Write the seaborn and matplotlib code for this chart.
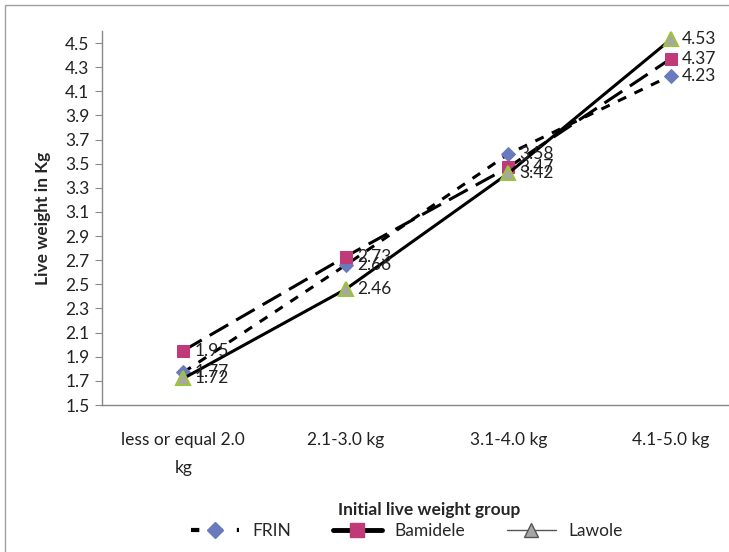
import numpy as np
import pandas as pd
import matplotlib.pyplot as plt
import seaborn as sns
from matplotlib.patches import Rectangle
from matplotlib.lines import Line2D

groups = ["less or equal 2.0\nkg", "2.1-3.0 kg", "3.1-4.0 kg", "4.1-5.0 kg"]
frin = [1.77, 2.66, 3.58, 4.23]
bamidele = [1.95, 2.73, 3.47, 4.37]
lawole = [1.72, 2.46, 3.42, 4.53]

sns.set_style("white")
plt.rcParams['font.family'] = ['Lato', 'DejaVu Sans']
FS = 12.5

fig = plt.figure(figsize=(7.29, 5.52), dpi=100)
ax = fig.add_axes([102 / 729, (552 - 405) / 552, 650 / 729, 374 / 552])

# figure border like the excel chart area
fig.patches.append(Rectangle((5 / 729, -0.05), 1.1, (552 - 5) / 552 + 0.05,
                             transform=fig.transFigure, fill=False,
                             edgecolor="#a0a0a0", linewidth=1))

blue = "#6a7bbd"
pink = "#bf3a77"
grey = "#a6a6a6"
lime = "#9cc43a"

series = [
    ("FRIN", frin, dict(marker="D", markersize=7, markerfacecolor=blue,
                        markeredgecolor=blue, dashes=(3, 3), linewidth=2.2)),
    ("Bamidele", bamidele, dict(marker="s", markersize=9, markerfacecolor=pink,
                                markeredgecolor=pink, dashes=(7, 3), linewidth=2.2)),
    ("Lawole", lawole, dict(marker="^", markersize=10, markerfacecolor=grey,
                            markeredgecolor=lime, markeredgewidth=1.5, linewidth=2.2)),
]

for name, vals, kw in series:
    df = pd.DataFrame({"group": groups, "weight": vals})
    sns.lineplot(data=df, x="group", y="weight", color="black", ax=ax,
                 sort=False, **kw)
    for i, v in enumerate(vals):
        ax.annotate(f"{v:.2f}", (i, v), xytext=(8, 0), textcoords="offset points",
                    va="center", ha="left", fontsize=FS, color="#222222")

ax.set_xlim(-0.5, 3.5)
ax.set_ylim(1.5, 4.6)
yt = np.arange(1.5, 4.51, 0.2)
ax.set_yticks(yt)
ax.set_yticklabels([f"{t:.1f}" for t in yt])
ax.tick_params(axis="y", left=True, length=5, color="#888888", labelsize=FS,
               labelcolor="#222222", pad=4)
ax.tick_params(axis="x", bottom=False, labelsize=FS, labelcolor="#222222", pad=16)
for lab in ax.get_xticklabels():
    lab.set_linespacing(1.9)
sns.despine(ax=ax)
for s in ["left", "bottom"]:
    ax.spines[s].set_color("#888888")
    ax.spines[s].set_linewidth(1)

ax.set_ylabel("Live weight in Kg", fontsize=FS, fontweight="bold", labelpad=10)
ax.set_xlabel("")
fig.text(429 / 729, 1 - 510 / 552, "Initial live weight group", ha="center",
         va="center", fontsize=FS, fontweight="bold")

# legend styled like the original excel legend
handles = [
    Line2D([], [], color="black", dashes=(2, 3.5), linewidth=3, marker="D",
           markersize=8, markerfacecolor=blue, markeredgecolor=blue),
    Line2D([], [], color="black", linewidth=3.5, marker="s", markersize=10,
           markerfacecolor=pink, markeredgecolor=pink),
    Line2D([], [], color="#555555", linewidth=1, marker="^", markersize=10,
           markerfacecolor=grey, markeredgecolor="#555555"),
]
fig.legend(handles, ["FRIN", "Bamidele", "Lawole"], loc="center",
           bbox_to_anchor=(407 / 729, 1 - 531 / 552), ncol=3, frameon=False,
           fontsize=FS, handlelength=2.8, columnspacing=2.4, handletextpad=0.75)

plt.savefig("out.png", dpi=100)
